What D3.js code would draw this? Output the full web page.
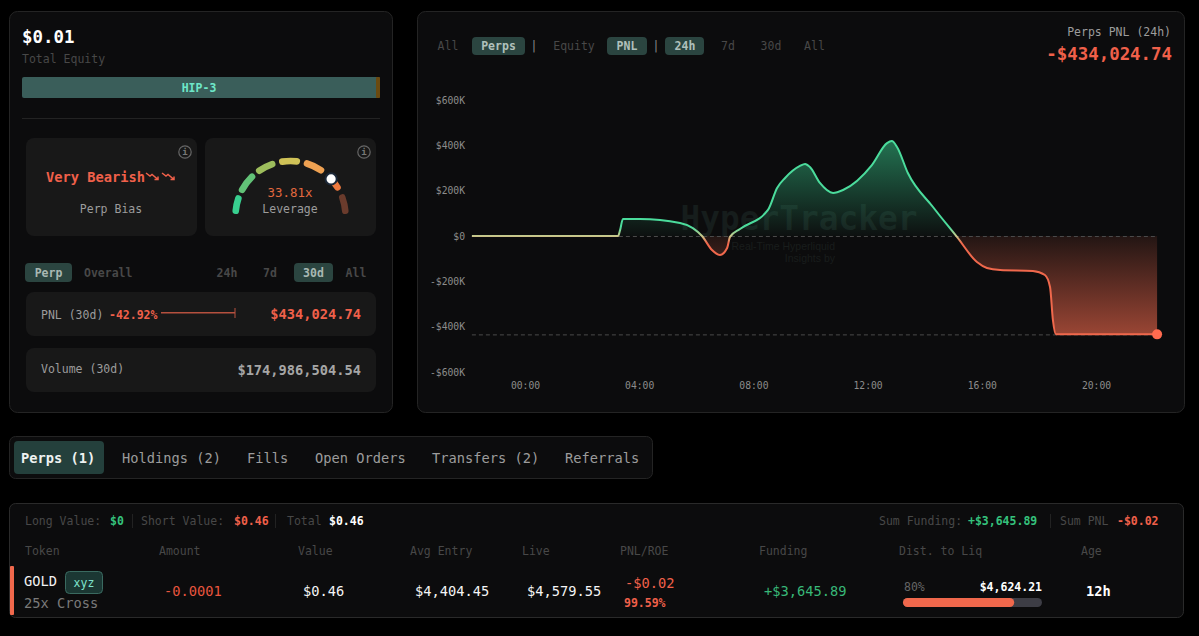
<!DOCTYPE html>
<html lang="en">
<head>
<meta charset="UTF-8">
<title>Perps PNL (24h)</title>
<script src="https://d3js.org/d3.v7.min.js"></script>
<style>
    html, body { margin: 0; padding: 0; background: #000; overflow: hidden; }
    svg { display: block; }
    text { font-family: "DejaVu Sans Mono", "Liberation Mono", monospace; }
    .axis text { fill: #8c8c8c; font-size: 9.7px; }
    .axis path, .axis line { display: none; }
</style>
</head>
<body>
<svg id="chart" width="1199" height="636"></svg>

<script>
// PNL series, hours since 00:00 and PNL in $K
const hours = [-1.86, 3.26, 3.33, 3.43, 4.03, 5.43, 5.88, 6.2, 6.55, 6.83, 7.08, 7.18, 7.53, 8.51, 8.83, 9.11, 9.63, 9.81, 9.98,
    10.33, 10.79, 11.14, 12.15, 12.68, 12.85, 13.03, 13.41, 14.29, 15.13, 15.83, 16.18, 16.64, 17.79, 18.21, 18.39, 18.49, 18.6, 22.14];
const pnl = [0, 0, 26, 75, 75, 57, 35, 0, -62, -84, -53, -4, 31, 115, 212, 256, 309, 318, 304,
    234, 190, 203, 313, 410, 419, 393, 278, 128, -4, -115, -141, -150, -154, -172, -225, -370, -434, -434];

const yTicks = [600, 400, 200, 0, -200, -400, -600];
const xTicks = [0, 4, 8, 12, 16, 20];
const refLines = [0, -434.02];

// gauge segments, degrees from the top
const gaugeStart = [-88, -65, -38, -12, 14, 42, 67];
const gaugeEnd = [-68, -41, -16, 10, 37, 62, 88];
const gaugeColors = ["#38cf8f", "#62c277", "#9dbd5c", "#cfc257", "#eea152", "#ee7a3f", "#6a3b2c"];
const gaugeNeedle = 47.6;

const liqPct = 80;

const RED = "#f0604a", GREEN = "#35c27c", DIM = "#484848", MID = "#9c9c9c", FS = 11.5, FL = 13.7;

const svg = d3.select("#chart");

function label(x, y, txt, color, size, opts) {
    opts = opts || {};
    return svg.append("text")
        .attr("x", x).attr("y", y)
        .attr("dy", "0.35em")
        .attr("fill", color)
        .attr("font-size", size || FS)
        .attr("font-weight", opts.bold ? 700 : 400)
        .attr("text-anchor", opts.anchor || "start")
        .text(txt);
}
function box(x0, y0, x1, y1, fill, r, stroke) {
    return svg.append("rect")
        .attr("x", x0).attr("y", y0)
        .attr("width", x1 - x0).attr("height", y1 - y0)
        .attr("rx", r || 0)
        .attr("fill", fill)
        .attr("stroke", stroke || "none");
}
function infoIcon(cx, cy) {
    svg.append("circle").attr("cx", cx).attr("cy", cy).attr("r", 6.2)
        .attr("fill", "none").attr("stroke", "#666").attr("stroke-width", 1.2);
    label(cx, cy, "i", "#777", 9, {anchor: "middle", bold: true});
}

// panels
box(9.5, 11.5, 392.5, 412.5, "#0c0c0d", 8, "#242424");
box(417.5, 11.5, 1184.5, 412.5, "#0c0c0d", 8, "#242424");
box(9.5, 436.5, 652.5, 478.5, "#0c0c0d", 6, "#242424");
box(9.5, 503.5, 1183.5, 617.5, "#0c0c0d", 6, "#2a2a2a");

// ---- left panel
label(22, 37, "$0.01", "#fff", 17.4, {bold: true});
label(22, 59, "Total Equity", DIM);
box(22, 77, 380, 98, "#3a5e5a", 2);
box(376, 77, 380, 98, "#6b4a10", 1);
label(199, 87.5, "HIP-3", "#6ee7c8", FS, {anchor: "middle", bold: true});
box(22, 118, 380, 119, "#232323");

box(26, 138, 197, 236, "#181818", 8);
box(205, 138, 376, 236, "#181818", 8);
infoIcon(185, 152);
infoIcon(364, 152);

label(46, 177.5, "Very Bearish", RED, FL, {bold: true});
// trending-down icons after the bias text
[146, 162].forEach(x => {
    svg.append("path")
        .attr("d", `M${x},173 l4,3 l2,-1.5 l6,5 m-3.5,0 h3.5 v-3`)
        .attr("fill", "none").attr("stroke", RED).attr("stroke-width", 1.5);
});
label(111, 209, "Perp Bias", MID, FS, {anchor: "middle"});

// leverage gauge
const gauge = svg.append("g").attr("transform", "translate(290.5,216)");
const gaugeArc = d3.arc().innerRadius(51.7).outerRadius(58.3).cornerRadius(3.2);
const rad = d3.scaleLinear().domain([0, 180]).range([0, Math.PI]);
gauge.selectAll("path")
    .data(gaugeStart.map((s, i) => ({s: s, e: gaugeEnd[i], c: gaugeColors[i]})))
    .join("path")
    .attr("d", d => gaugeArc({startAngle: rad(d.s), endAngle: rad(d.e)}))
    .attr("fill", d => d.c);
gauge.append("circle")
    .attr("cx", 55 * Math.sin(rad(gaugeNeedle)))
    .attr("cy", -55 * Math.cos(rad(gaugeNeedle)))
    .attr("r", 5.6)
    .attr("fill", "#fff").attr("stroke", "#1c2838").attr("stroke-width", 2);
label(290, 192.5, "33.81x", "#e2693f", 12.4, {anchor: "middle"});
label(290, 209, "Leverage", MID, FS, {anchor: "middle"});

// period pills
box(25, 263, 72, 282, "#2b4540", 4);
label(48.5, 273, "Perp", "#a8b8b3", FS, {anchor: "middle", bold: true});
label(84, 273, "Overall", DIM, FS, {bold: true});
label(227, 273, "24h", DIM, FS, {anchor: "middle", bold: true});
label(270, 273, "7d", DIM, FS, {anchor: "middle", bold: true});
box(294, 263, 333, 282, "#2b4540", 4);
label(313.5, 273, "30d", "#a8b8b3", FS, {anchor: "middle", bold: true});
label(356, 273, "All", DIM, FS, {anchor: "middle", bold: true});

box(26, 292, 376, 336, "#181818", 8);
label(41, 314.5, "PNL (30d)", MID);
label(109, 314.5, "-42.92%", RED, FS, {bold: true});
box(161, 312, 235, 313.5, "#b5503e");
box(234.5, 308, 235.5, 318, "#b5503e");
label(361, 314, "$434,024.74", RED, FL, {anchor: "end", bold: true});

box(26, 348, 376, 392, "#181818", 8);
label(41, 368.5, "Volume (30d)", MID);
label(361, 370, "$174,986,504.54", "#a6a6a6", FL, {anchor: "end", bold: true});

// ---- chart panel header
label(448, 46, "All", DIM, FS, {anchor: "middle"});
box(472, 37, 525, 55, "#2b4540", 4);
label(498.5, 46, "Perps", "#b0c0bb", FS, {anchor: "middle", bold: true});
label(534, 46, "|", "#888", FS, {anchor: "middle"});
label(574, 46, "Equity", DIM, FS, {anchor: "middle"});
box(607, 37, 647, 55, "#2b4540", 4);
label(627, 46, "PNL", "#b0c0bb", FS, {anchor: "middle", bold: true});
label(656, 46, "|", "#888", FS, {anchor: "middle"});
box(665, 37, 704, 55, "#2b4540", 4);
label(685, 46, "24h", "#b0c0bb", FS, {anchor: "middle", bold: true});
label(728, 46, "7d", DIM, FS, {anchor: "middle"});
label(771, 46, "30d", DIM, FS, {anchor: "middle"});
label(814.5, 46, "All", DIM, FS, {anchor: "middle"});
label(1171, 32, "Perps PNL (24h)", MID, FS, {anchor: "end"});
label(1172, 54, "-$434,024.74", RED, 17.4, {anchor: "end", bold: true});

// ---- PNL chart
const x = d3.scaleLinear().domain([0, 20]).range([525, 1096]);
const y = d3.scaleLinear().domain([-600, 600]).range([372, 100]);
const rows = hours.map((h, i) => ({h: h, v: pnl[i]}));
const last = rows[rows.length - 1];

// watermark
label(799, 219, "HyperTracker", "#161d1c", 32.8, {anchor: "middle", bold: true});
svg.append("text").attr("x", 835).attr("y", 250).attr("text-anchor", "end")
    .attr("fill", "#191d1c").attr("font-size", 10.5).style("font-family", "Liberation Sans")
    .text("Real-Time Hyperliquid");
svg.append("text").attr("x", 835).attr("y", 262).attr("text-anchor", "end")
    .attr("fill", "#191d1c").attr("font-size", 10.5).style("font-family", "Liberation Sans")
    .text("Insights by");

const defs = svg.append("defs");
function vGradient(id, stops) {
    const g = defs.append("linearGradient").attr("id", id)
        .attr("gradientUnits", "userSpaceOnUse")
        .attr("x1", 0).attr("x2", 0)
        .attr("y1", y(420)).attr("y2", y(-434));
    const off = v => (y(v) - y(420)) / (y(-434) - y(420));
    stops.forEach(s => g.append("stop")
        .attr("offset", off(s[0]))
        .attr("stop-color", s[1])
        .attr("stop-opacity", s[2]));
}
vGradient("fillGrad", [[420, "#2c9a6c", 0.72], [0, "#2c9a6c", 0.03], [0, "#f0684c", 0.1], [-434, "#f0684c", 0.62]]);
vGradient("lineGrad", [[40, "#4bdc9c", 1], [0, "#c9c98c", 1], [-30, "#f0684c", 1]]);

const curve = d3.curveMonotoneX;
svg.append("path").datum(rows)
    .attr("fill", "url(#fillGrad)")
    .attr("d", d3.area().curve(curve).x(d => x(d.h)).y0(y(0)).y1(d => y(d.v)));

svg.selectAll("line.ref").data(refLines).join("line")
    .attr("class", "ref")
    .attr("x1", x(hours[0])).attr("x2", x(last.h))
    .attr("y1", d => y(d) + 0.5).attr("y2", d => y(d) + 0.5)
    .attr("stroke", "#4a4a4a").attr("stroke-dasharray", "4 3");

svg.append("path").datum(rows)
    .attr("fill", "none")
    .attr("stroke", "url(#lineGrad)")
    .attr("stroke-width", 2)
    .attr("d", d3.line().curve(curve).x(d => x(d.h)).y(d => y(d.v)));

svg.append("circle")
    .attr("cx", x(last.h)).attr("cy", y(last.v)).attr("r", 5)
    .attr("fill", "#ff6b4f");

const fmtK = d => (d < 0 ? "-$" + (-d) + "K" : d === 0 ? "$0" : "$" + d + "K");
svg.append("g").attr("class", "axis")
    .attr("transform", "translate(472,0)")
    .call(d3.axisLeft(y).tickValues(yTicks).tickFormat(fmtK).tickSize(0).tickPadding(7));
svg.append("g").attr("class", "axis")
    .attr("transform", "translate(0,382)")
    .call(d3.axisBottom(x).tickValues(xTicks).tickFormat(d => d3.format("02")(d) + ":00").tickSize(0).tickPadding(0));

// ---- tabs
box(14, 441, 104, 474, "#24403c", 4);
label(21, 458, "Perps (1)", "#eef2f1", FL, {bold: true});
label(122, 458, "Holdings (2)", MID, FL);
label(247, 458, "Fills", MID, FL);
label(315, 458, "Open Orders", MID, FL);
label(432, 458, "Transfers (2)", MID, FL);
label(565, 458, "Referrals", MID, FL);

// ---- positions table
label(25, 521, "Long Value:", DIM);
label(110, 521, "$0", GREEN, FS, {bold: true});
box(132, 514, 133, 528, "#222");
label(141, 521, "Short Value:", DIM);
label(234, 521, "$0.46", RED, FS, {bold: true});
box(275, 514, 276, 528, "#222");
label(287, 521, "Total", DIM);
label(329, 521, "$0.46", "#fff", FS, {bold: true});
label(879, 521, "Sum Funding:", DIM);
label(968, 521, "+$3,645.89", GREEN, FS, {bold: true});
box(1050, 514, 1051, 528, "#222");
label(1060, 521, "Sum PNL", DIM);
label(1117, 521, "-$0.02", RED, FS, {bold: true});

const headers = ["Token", "Amount", "Value", "Avg Entry", "Live", "PNL/ROE", "Funding", "Dist. to Liq", "Age"];
const headerX = [25, 159, 298, 410, 522, 620, 759, 899, 1081];
headers.forEach((h, i) => label(headerX[i], 551, h, DIM));

box(10, 566, 14, 615, "#f0684c", 1);
label(24, 581, "GOLD", "#f2f2f2", FL);
box(65.5, 571.5, 102.5, 593.5, "#1b3733", 4, "#3a6a60");
label(84, 582.5, "xyz", "#7fe5cd", FS, {anchor: "middle"});
label(24, 603, "25x Cross", "#7a7a7a", FL);
label(164, 591, "-0.0001", "#e8553e", FL);
label(303, 591, "$0.46", "#f5f5f5", FL);
label(415, 591, "$4,404.45", "#f5f5f5", FL);
label(527, 591, "$4,579.55", "#f5f5f5", FL);
label(625, 583, "-$0.02", RED, FL);
label(624, 603, "99.59%", RED, FS, {bold: true});
label(764, 591, "+$3,645.89", "#38b878", FL);
label(904, 587, "80%", "#666", FS);
label(1042, 587, "$4,624.21", "#fff", FS, {anchor: "end", bold: true});
label(1086, 591, "12h", "#fff", FL, {bold: true});

const liq = d3.scaleLinear().domain([0, 100]).range([903, 1042]);
box(liq(0), 598, liq(100), 607, "#3d3d45", 4.5);
box(liq(0), 598, liq(liqPct), 607, "#f0684c", 4.5);
</script>
</body>
</html>
